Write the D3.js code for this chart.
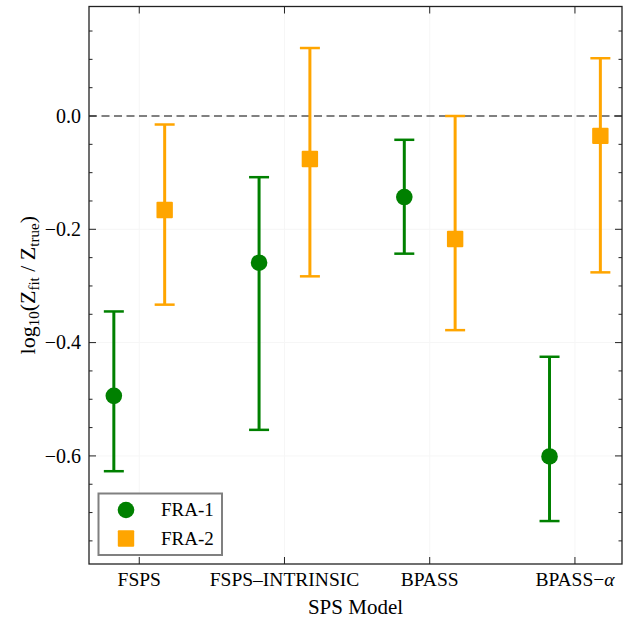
<!DOCTYPE html>
<html>
<head>
<meta charset="utf-8">
<script src="https://cdn.jsdelivr.net/npm/d3@7"></script>
<style>
  html, body { margin: 0; padding: 0; background: #fff; }
  svg { display: block; font-family: "Liberation Serif", "Times New Roman", serif; }
</style>
</head>
<body>
<svg id="chart" width="631" height="618"></svg>
<script>
// SPS models and the metallicity offset for each galaxy (value, lower and upper bounds)
const models = ["FSPS", "FSPS–INTRINSIC", "BPASS", "BPASS−α"];

const fra1Value = [-0.494, -0.259, -0.143, -0.601];
const fra1Low   = [-0.627, -0.554, -0.243, -0.715];
const fra1High  = [-0.345, -0.108, -0.042, -0.425];

const fra2Value = [-0.166, -0.076, -0.217, -0.035];
const fra2Low   = [-0.333, -0.283, -0.378, -0.276];
const fra2High  = [-0.015, 0.120, 0.000, 0.102];

const yMajorTicks = [0.0, -0.2, -0.4, -0.6];
const yMinorTicks = [0.15, 0.1, 0.05, -0.05, -0.1, -0.15, -0.25, -0.3, -0.35, -0.45, -0.5, -0.55, -0.65, -0.7, -0.75];

const series = [
  { name: "FRA-1", color: "#008000", shape: "circle", offset: -0.175, value: fra1Value, low: fra1Low, high: fra1High },
  { name: "FRA-2", color: "#FFA500", shape: "square", offset: 0.175, value: fra2Value, low: fra2Low, high: fra2High }
];

const svg = d3.select("#chart");
const plot = { left: 89, right: 622, top: 6.5, bottom: 564 };

const x = d3.scaleLinear().domain([-0.346, 3.324]).range([plot.left, plot.right]);
const y = d3.scaleLinear().domain([-0.7908, 0.1933]).range([plot.bottom, plot.top]);

// faint grid
const grid = svg.append("g");
grid.selectAll("line.gx").data(d3.range(models.length)).join("line")
  .attr("x1", d => x(d)).attr("x2", d => x(d))
  .attr("y1", plot.top).attr("y2", plot.bottom)
  .attr("stroke", "#f6f6f6").attr("stroke-width", 1);
grid.selectAll("line.gy").data(yMajorTicks).join("line")
  .attr("x1", plot.left).attr("x2", plot.right)
  .attr("y1", d => y(d)).attr("y2", d => y(d))
  .attr("stroke", "#f6f6f6").attr("stroke-width", 1);

// reference line at zero
svg.append("line")
  .attr("x1", plot.left).attr("x2", plot.right)
  .attr("y1", y(0)).attr("y2", y(0))
  .attr("stroke", "#808080").attr("stroke-width", 2)
  .attr("stroke-dasharray", "8,4.5");

// error bars and markers
series.forEach(s => {
  const g = svg.append("g");
  const idx = d3.range(models.length);
  const cx = i => x(i + s.offset);
  g.selectAll("line.bar").data(idx).join("line")
    .attr("x1", cx).attr("x2", cx)
    .attr("y1", i => y(s.low[i])).attr("y2", i => y(s.high[i]))
    .attr("stroke", s.color).attr("stroke-width", 3);
  ["low", "high"].forEach(k => {
    g.selectAll("line.cap-" + k).data(idx).join("line")
      .attr("x1", i => cx(i) - 10).attr("x2", i => cx(i) + 10)
      .attr("y1", i => y(s[k][i])).attr("y2", i => y(s[k][i]))
      .attr("stroke", s.color).attr("stroke-width", 2.5);
  });
  if (s.shape === "circle") {
    g.selectAll("circle").data(idx).join("circle")
      .attr("cx", cx).attr("cy", i => y(s.value[i])).attr("r", 8.3)
      .attr("fill", s.color);
  } else {
    g.selectAll("rect").data(idx).join("rect")
      .attr("x", i => cx(i) - 8.2).attr("y", i => y(s.value[i]) - 8.2)
      .attr("width", 16.4).attr("height", 16.4).attr("rx", 1)
      .attr("fill", s.color);
  }
});

// frame and inward ticks
const axisColor = "#222";
svg.append("rect")
  .attr("x", plot.left).attr("y", plot.top)
  .attr("width", plot.right - plot.left).attr("height", plot.bottom - plot.top)
  .attr("fill", "none").attr("stroke", axisColor).attr("stroke-width", 1.3);

const ticks = svg.append("g").attr("stroke", axisColor).attr("stroke-width", 1);
yMajorTicks.forEach(v => {
  ticks.append("line").attr("x1", plot.left).attr("x2", plot.left + 7).attr("y1", y(v)).attr("y2", y(v));
  ticks.append("line").attr("x1", plot.right).attr("x2", plot.right - 7).attr("y1", y(v)).attr("y2", y(v));
});
yMinorTicks.forEach(v => {
  ticks.append("line").attr("x1", plot.left).attr("x2", plot.left + 3.5).attr("y1", y(v)).attr("y2", y(v));
  ticks.append("line").attr("x1", plot.right).attr("x2", plot.right - 3.5).attr("y1", y(v)).attr("y2", y(v));
});
d3.range(models.length).forEach(i => {
  ticks.append("line").attr("x1", x(i)).attr("x2", x(i)).attr("y1", plot.bottom).attr("y2", plot.bottom - 7);
  ticks.append("line").attr("x1", x(i)).attr("x2", x(i)).attr("y1", plot.top).attr("y2", plot.top + 7);
});

// y tick labels
const fmt = v => (v < 0 ? "−" : "") + Math.abs(v).toFixed(1);
svg.append("g").selectAll("text").data(yMajorTicks).join("text")
  .attr("x", 81).attr("y", d => y(d)).attr("dy", "0.34em")
  .attr("text-anchor", "end").attr("font-size", 20).attr("fill", "#000")
  .text(fmt);

// x tick labels
const xl = svg.append("g").selectAll("text").data(models).join("text")
  .attr("x", (d, i) => x(i)).attr("y", 586)
  .attr("text-anchor", "middle").attr("font-size", 19.5).attr("fill", "#000");
xl.each(function (d) {
  const t = d3.select(this);
  if (d.endsWith("α")) {
    t.append("tspan").text(d.slice(0, -1));
    t.append("tspan").attr("font-style", "italic").text("α");
  } else {
    t.text(d);
  }
});

// axis titles
svg.append("text")
  .attr("x", (plot.left + plot.right) / 2).attr("y", 614)
  .attr("text-anchor", "middle").attr("font-size", 21).attr("fill", "#000")
  .text("SPS Model");

const yt = svg.append("text")
  .attr("transform", `translate(35, ${(plot.top + plot.bottom) / 2}) rotate(-90)`)
  .attr("text-anchor", "middle").attr("font-size", 22).attr("fill", "#000");
yt.append("tspan").text("log");
yt.append("tspan").attr("font-size", 15).attr("dy", 4).text("10");
yt.append("tspan").attr("dy", -4).text("(Z");
yt.append("tspan").attr("font-size", 15).attr("dy", 4).text("fit");
yt.append("tspan").attr("dy", -4).text(" / Z");
yt.append("tspan").attr("font-size", 15).attr("dy", 4).text("true");
yt.append("tspan").attr("dy", -4).text(")");

// legend
const lg = svg.append("g");
lg.append("rect").attr("x", 98.5).attr("y", 493.5).attr("width", 123.5).attr("height", 61.5)
  .attr("fill", "#fff").attr("stroke", "#808080").attr("stroke-width", 2);
series.forEach((s, k) => {
  const cy = 510 + k * 28.5;
  if (s.shape === "circle") {
    lg.append("circle").attr("cx", 126).attr("cy", cy).attr("r", 8.3).attr("fill", s.color);
  } else {
    lg.append("rect").attr("x", 117.8).attr("y", cy - 8.2).attr("width", 16.4).attr("height", 16.4).attr("rx", 1).attr("fill", s.color);
  }
  lg.append("text").attr("x", 161).attr("y", cy).attr("dy", "0.34em")
    .attr("font-size", 19).attr("fill", "#000").text(s.name);
});
</script>
</body>
</html>
